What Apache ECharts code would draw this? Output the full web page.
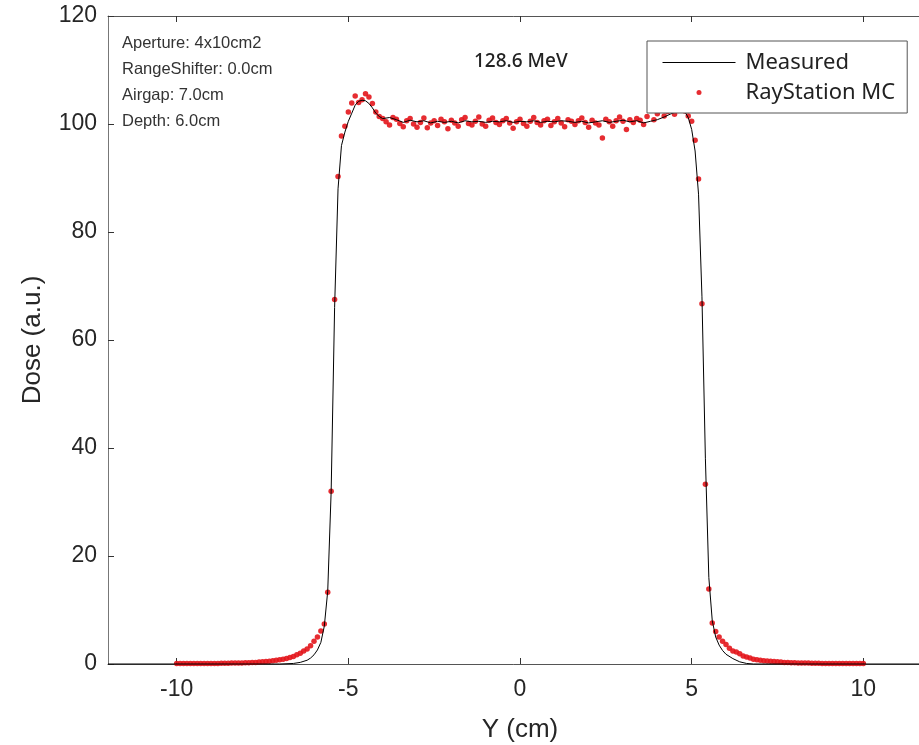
<!DOCTYPE html>
<html>
<head>
<meta charset="utf-8">
<script src="https://cdn.jsdelivr.net/npm/echarts@6/dist/echarts.min.js"></script>
<style>
  html, body { margin: 0; padding: 0; background: #fff; }
  #chart { width: 919px; height: 745px; }
</style>
</head>
<body>
<div id="chart"></div>
<script>
// lateral profile, 128.6 MeV, measured vs RayStation MC
var xTicks = [-10, -5, 0, 5, 10];
var infoLines = ['Aperture: 4x10cm2', 'RangeShifter: 0.0cm', 'Airgap: 7.0cm', 'Depth: 6.0cm'];

var measured = [
  [-12, 0], [-7.0, 0], [-6.6, 0.1], [-6.4, 0.3], [-6.2, 0.7], [-6.1, 1.1], [-6.0, 1.7],
  [-5.9, 2.6], [-5.8, 4.0], [-5.7, 7.0], [-5.6, 13.5], [-5.5, 32], [-5.4, 66], [-5.3, 88],
  [-5.2, 96], [-5.1, 98.5], [-5.0, 100.5], [-4.9, 102], [-4.8, 103.5], [-4.7, 104.2],
  [-4.6, 104.4], [-4.5, 104.3], [-4.4, 103.8], [-4.3, 103.0], [-4.2, 102.0], [-4.1, 101.4],
  [-4.0, 101.0], [-3.8, 101.2], [-3.6, 100.8], [-3.4, 100.3], [-3.2, 100.7], [-3.0, 100.4],
  [-2.8, 100.6], [-2.6, 100.2], [-2.4, 100.5], [-2.2, 100.3], [-2.0, 100.5], [-1.8, 100.2],
  [-1.6, 100.6], [-1.4, 100.4], [-1.2, 100.5], [-1.0, 100.3], [-0.8, 100.5], [-0.6, 100.4],
  [-0.4, 100.6], [-0.2, 100.3], [0, 100.5], [0.2, 100.4], [0.4, 100.6], [0.6, 100.3],
  [0.8, 100.5], [1.0, 100.4], [1.2, 100.6], [1.4, 100.5], [1.6, 100.3], [1.8, 100.5],
  [2.0, 100.2], [2.2, 100.4], [2.4, 100.6], [2.6, 100.3], [2.8, 100.5], [3.0, 100.7],
  [3.2, 100.4], [3.4, 100.6], [3.6, 100.2], [3.8, 100.5], [4.0, 100.8], [4.2, 101.3],
  [4.4, 101.9], [4.6, 102.4], [4.7, 102.6], [4.8, 102.3], [4.9, 101.2], [5.0, 99.0],
  [5.1, 95.0], [5.2, 87.0], [5.3, 68.0], [5.4, 38.0], [5.5, 16.0], [5.6, 8.0], [5.7, 5.0],
  [5.8, 3.5], [5.9, 2.5], [6.0, 1.8], [6.2, 1.0], [6.4, 0.4], [6.6, 0.1], [6.8, 0], [12, 0]
];

var mc = [
  [-10.0, 0.1], [-9.9, 0.1], [-9.8, 0.1], [-9.7, 0.1], [-9.6, 0.1], [-9.5, 0.1], [-9.4, 0.1],
  [-9.3, 0.1], [-9.2, 0.1], [-9.1, 0.1], [-9.0, 0.1], [-8.9, 0.1], [-8.8, 0.1], [-8.7, 0.15],
  [-8.6, 0.15], [-8.5, 0.15], [-8.4, 0.2], [-8.3, 0.2], [-8.2, 0.2], [-8.1, 0.2], [-8.0, 0.25],
  [-7.9, 0.25], [-7.8, 0.3], [-7.7, 0.3], [-7.6, 0.35], [-7.5, 0.4], [-7.4, 0.45], [-7.3, 0.5],
  [-7.2, 0.6], [-7.1, 0.7], [-7.0, 0.8], [-6.9, 0.9], [-6.8, 1.0], [-6.7, 1.2], [-6.6, 1.4],
  [-6.5, 1.7], [-6.4, 2.0], [-6.3, 2.4], [-6.2, 2.8], [-6.1, 3.4], [-6.0, 4.2], [-5.9, 5.0],
  [-5.8, 6.1], [-5.7, 7.4], [-5.6, 13.3], [-5.5, 32.0], [-5.4, 67.5], [-5.3, 90.3], [-5.2, 97.8],
  [-5.1, 99.6], [-5.0, 102.2], [-4.9, 103.9], [-4.8, 105.2], [-4.7, 104.0], [-4.6, 104.5],
  [-4.5, 105.6], [-4.4, 105.0], [-4.3, 103.8], [-4.2, 102.2], [-4.1, 101.4], [-4.0, 101.0],
  [-3.9, 100.4], [-3.8, 99.8], [-3.7, 101.2], [-3.6, 100.9], [-3.5, 100.1], [-3.4, 99.5],
  [-3.3, 100.6], [-3.2, 101.0], [-3.1, 100.0], [-3.0, 99.4], [-2.9, 100.3], [-2.8, 101.1],
  [-2.7, 99.3], [-2.6, 100.2], [-2.5, 100.6], [-2.4, 99.7], [-2.3, 100.9], [-2.2, 100.4],
  [-2.1, 99.1], [-2.0, 100.7], [-1.9, 100.2], [-1.8, 99.6], [-1.7, 100.8], [-1.6, 101.2],
  [-1.5, 100.1], [-1.4, 99.8], [-1.3, 100.5], [-1.2, 101.3], [-1.1, 100.0], [-1.0, 99.6],
  [-0.9, 100.7], [-0.8, 101.1], [-0.7, 100.3], [-0.6, 99.9], [-0.5, 100.6], [-0.4, 101.0],
  [-0.3, 100.2], [-0.2, 99.2], [-0.1, 100.4], [0.0, 100.9], [0.1, 100.1], [0.2, 99.6],
  [0.3, 100.5], [0.4, 101.2], [0.5, 100.3], [0.6, 99.8], [0.7, 100.6], [0.8, 100.9],
  [0.9, 99.7], [1.0, 100.4], [1.1, 101.0], [1.2, 100.2], [1.3, 99.5], [1.4, 100.8],
  [1.5, 100.5], [1.6, 99.9], [1.7, 100.6], [1.8, 101.1], [1.9, 100.3], [2.0, 99.4],
  [2.1, 100.7], [2.2, 100.2], [2.3, 99.8], [2.4, 97.4], [2.5, 100.9], [2.6, 100.4],
  [2.7, 99.6], [2.8, 100.6], [2.9, 101.3], [3.0, 100.5], [3.1, 99.0], [3.2, 100.8],
  [3.3, 100.3], [3.4, 101.0], [3.5, 100.7], [3.6, 99.9], [3.7, 101.4], [3.8, 102.6],
  [3.9, 100.8], [4.0, 101.9], [4.1, 102.8], [4.2, 101.5], [4.3, 102.3], [4.4, 103.0],
  [4.5, 101.8], [4.6, 102.5], [4.7, 103.2], [4.8, 102.4], [4.9, 101.5], [5.0, 100.5],
  [5.1, 97.0], [5.2, 89.8], [5.3, 66.7], [5.4, 33.3], [5.5, 13.9], [5.6, 7.6], [5.7, 6.0],
  [5.8, 5.0], [5.9, 4.2], [6.0, 3.6], [6.1, 2.9], [6.2, 2.4], [6.3, 2.2], [6.4, 1.9],
  [6.5, 1.5], [6.6, 1.3], [6.7, 1.1], [6.8, 0.9], [6.9, 0.8], [7.0, 0.7], [7.1, 0.6],
  [7.2, 0.55], [7.3, 0.5], [7.4, 0.45], [7.5, 0.4], [7.6, 0.35], [7.7, 0.3], [7.8, 0.3],
  [7.9, 0.25], [8.0, 0.25], [8.1, 0.2], [8.2, 0.2], [8.3, 0.2], [8.4, 0.2], [8.5, 0.15],
  [8.6, 0.15], [8.7, 0.15], [8.8, 0.1], [8.9, 0.1], [9.0, 0.1], [9.1, 0.1], [9.2, 0.1],
  [9.3, 0.1], [9.4, 0.1], [9.5, 0.1], [9.6, 0.1], [9.7, 0.1], [9.8, 0.1], [9.9, 0.1], [10.0, 0.1]
];

var chart = echarts.init(document.getElementById('chart'));
var labelFont = 'Liberation Sans, Arial, sans-serif';

var option = {
  animation: false,
  backgroundColor: '#fff',
  title: {
    text: '128.6 MeV',
    left: 469, top: 47,
    textStyle: { fontFamily: 'Noto Sans', fontSize: 19, fontWeight: 500, color: '#222' }
  },
  legend: {
    orient: 'vertical',
    left: 647, top: 41,
    padding: [10.5, 12, 9.5, 15],
    itemWidth: 73, itemHeight: 5, itemGap: 8,
    backgroundColor: '#fff',
    borderColor: '#555', borderWidth: 1,
    lineStyle: { width: 1 },
    textStyle: { fontFamily: 'Noto Sans', fontSize: 22, color: '#222', lineHeight: 22, padding: [0, 0, 0, 5] },
    data: [
      { name: 'Measured', itemStyle: { color: 'rgba(0,0,0,0)', opacity: 0 } },
      { name: 'RayStation MC' }
    ]
  },
  graphic: infoLines.map(function (t, i) {
    return {
      type: 'text', left: 122, top: 35 + i * 26, z: 10,
      style: { text: t, fontFamily: labelFont, fontSize: 16.5, fill: '#333' }
    };
  }),
  grid: { left: 108, top: 16, right: -13, bottom: 81, outerBoundsMode: 'none' },
  xAxis: [{
    type: 'value', min: -12, max: 12,
    name: 'Y (cm)', nameLocation: 'middle', nameGap: 53,
    nameTextStyle: { fontFamily: labelFont, fontSize: 26, color: '#262626' },
    axisLine: { onZero: false, lineStyle: { color: '#555', width: 1 } },
    axisTick: { inside: true, length: 6, lineStyle: { color: '#333' }, customValues: xTicks },
    axisLabel: { customValues: xTicks, fontFamily: labelFont, fontSize: 23, color: '#262626', margin: 14 },
    splitLine: { show: false }
  }, {
    type: 'value', min: -12, max: 12, position: 'top',
    axisLine: { onZero: false, lineStyle: { color: '#555', width: 1 } },
    axisTick: { inside: true, length: 6, lineStyle: { color: '#333' }, customValues: xTicks },
    axisLabel: { show: false },
    splitLine: { show: false }
  }],
  yAxis: {
    type: 'value', min: 0, max: 120, interval: 20,
    name: 'Dose (a.u.)', nameLocation: 'middle', nameGap: 62,
    nameTextStyle: { fontFamily: labelFont, fontSize: 26, color: '#262626' },
    axisLine: { show: true, onZero: false, lineStyle: { color: '#777', width: 1 } },
    axisTick: { show: true, inside: true, length: 6, lineStyle: { color: '#333' } },
    axisLabel: { fontFamily: labelFont, fontSize: 23, color: '#262626', margin: 11 },
    splitLine: { show: false }
  },
  series: [{
    name: 'Measured',
    type: 'line',
    data: measured,
    showSymbol: false,
    symbol: 'none',
    clip: false,
    lineStyle: { color: '#000', width: 1 },
    itemStyle: { color: '#000' },
    z: 3
  }, {
    name: 'RayStation MC',
    type: 'scatter',
    data: mc,
    symbol: 'circle',
    symbolSize: 5.5,
    itemStyle: { color: '#e3151b', opacity: 0.9 },
    z: 2
  }]
};

chart.setOption(option);
</script>
</body>
</html>
